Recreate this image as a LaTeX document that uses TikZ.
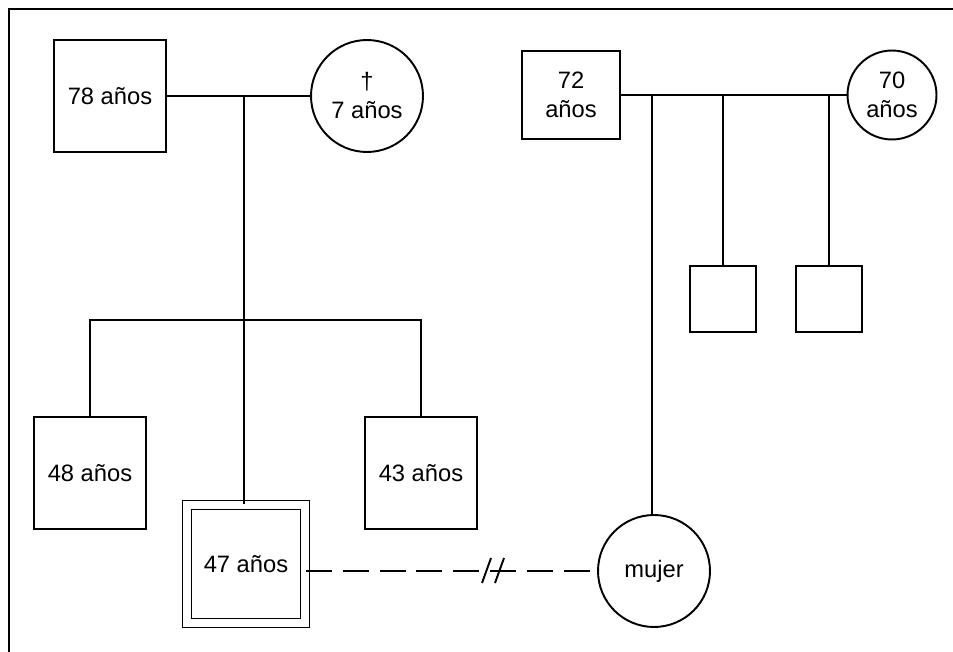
\documentclass[tikz,border=0pt]{standalone}
\usepackage{fontspec}
\setmainfont{Liberation Sans}
\usepackage{tikz}
\usetikzlibrary{positioning,calc}
\newcommand{\gfont}{\fontsize{13.5}{16.5}\selectfont}
\tikzset{
  male/.style    ={rectangle,draw,line width=1.1pt,minimum width=2.24cm,minimum height=2.24cm,inner sep=0pt,align=center,font=\gfont},
  female/.style  ={circle,draw,line width=1.1pt,minimum size=2.24cm,inner sep=0pt,align=center,font=\gfont},
  proband/.style ={rectangle,draw,line width=0.6pt,double,double distance=0.16cm,minimum size=2.36cm,inner sep=0pt,font=\gfont},
  tie/.style     ={line width=1.1pt},
  apart/.style   ={line width=1.1pt,dash pattern=on 0.52cm off 0.22cm},
  frame/.style   ={line width=1.5pt},
}
\begin{document}
\begin{tikzpicture}[x=0.02cm,y=-0.02cm]
  \useasboundingbox (0,0) rectangle (953,652);
  \draw[frame] (9,652) -- (9,9) -- (953,9);
  % grandparents
  \node[male]   (abuelo) at (110,96) {78 años};
  \node[female] (abuela) at (367,96) {†\\7 años};
  \draw[tie] (abuelo) -- (abuela);
  \coordinate (m1) at (244,96);
  \coordinate (s1) at (244,320);
  % children
  \node[male]    (hijo48) at (90,473)  {48 años};
  \node[male]    (hijo43) at (421,473) {43 años};
  \node[proband] (ego)    at (246,564) {47 años};
  \draw[tie] (m1) -- (m1 |- ego.north);
  \draw[tie] (hijo48.north) |- (s1) -| (hijo43.north);
  % in-laws
  \node[male,minimum width=1.96cm,minimum height=1.76cm] (padre) at (571,95) {72\\años};
  \node[female,minimum size=1.78cm] (madre) at (892,95) {70\\años};
  \draw[tie] (padre) -- (madre);
  \node[female] (mujer) at (654,571) {mujer};
  \coordinate (m2) at (652,95);
  \draw[tie] (m2) -- (m2 |- mujer.north);
  \foreach \name/\x in {hno1/723,hno2/829}{
     \node[male,minimum size=1.32cm] (\name) at (\x,299) {};
     \draw[tie] (\name.north) -- (\name.north |- padre.east);
  }
  % separated couple
  \draw[apart] (ego.east |- mujer.west) -- (mujer.west);
  \coordinate (brk) at (494,571);
  \draw[tie] ([shift={(-12,12)}]brk) -- ([shift={(-3,-13)}]brk);
  \draw[tie] ([shift={(1,12)}]brk) -- ([shift={(10,-13)}]brk);
\end{tikzpicture}
\end{document}
